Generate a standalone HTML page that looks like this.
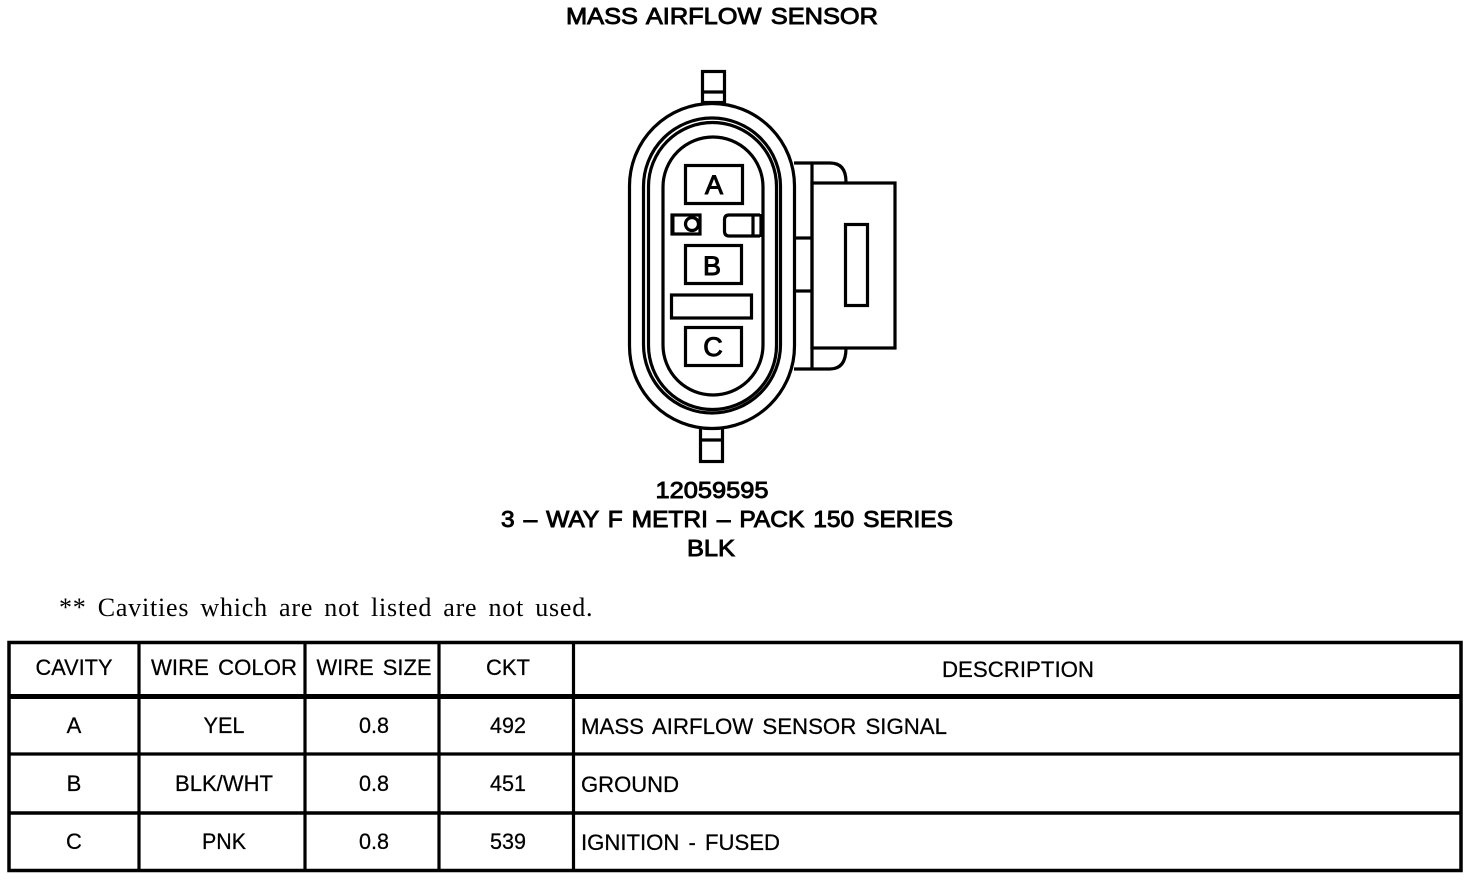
<!DOCTYPE html>
<html>
<head>
<meta charset="utf-8">
<style>
html,body{margin:0;padding:0;background:#fff;width:1472px;height:882px;overflow:hidden}
svg{display:block}
text{font-family:"Liberation Sans",sans-serif;fill:#000}
.h{font-size:23px;stroke:#000;stroke-width:.9px;text-anchor:middle;word-spacing:2px}
.t{font-size:22px;stroke:#000;stroke-width:.25px;word-spacing:3px}
.c{text-anchor:middle}
.l{font-size:27px;stroke:#000;stroke-width:1px;text-anchor:middle}
</style>
</head>
<body>
<svg width="1472" height="882" viewBox="0 0 1472 882" xmlns="http://www.w3.org/2000/svg">
<g fill="none" stroke="#000" stroke-width="3.200">
<!-- tabs -->
<rect x="702.500" y="71.500" width="22" height="31"/>
<line x1="702" y1="92" x2="725" y2="92"/>
<rect x="700.500" y="428" width="22" height="33.500"/>
<line x1="700" y1="440" x2="723" y2="440"/>
<!-- right clip -->
<path d="M794 163H830Q846 163 846 182"/>
<path d="M846 348Q846 369 830 369H794"/>
<rect x="812" y="183" width="83" height="165"/>
<line x1="812" y1="163" x2="812" y2="369"/>
<line x1="796" y1="238" x2="812" y2="238"/>
<line x1="796" y1="291" x2="812" y2="291"/>
<rect x="845.500" y="224.500" width="22" height="81"/>
<!-- ovals -->
<rect x="629.500" y="103.500" width="165" height="325" rx="82.500" ry="82.500" fill="#fff"/>
<rect x="643.500" y="118" width="137" height="295" rx="68.500" ry="68.500"/>
<rect x="648.500" y="122.500" width="128" height="287" rx="64" ry="64"/>
<rect x="663" y="137" width="100" height="258" rx="50" ry="50"/>
<!-- cavities -->
<rect x="685.500" y="165.500" width="57" height="38"/>
<rect x="685.500" y="245.500" width="56" height="38"/>
<rect x="671.500" y="295" width="80" height="23"/>
<rect x="685.500" y="327.500" width="56" height="38"/>
<rect x="672" y="215" width="28" height="19"/>
<line x1="672.500" y1="214" x2="672.500" y2="235" stroke-width="4"/>
<circle cx="692" cy="224" r="6.500"/>
<path d="M760 215H729Q724.500 215 724.500 220V231Q724.500 236 729 236H760"/>
<line x1="753" y1="215" x2="753" y2="236"/>
<line x1="761" y1="214" x2="761" y2="237"/>
<!-- table -->
<rect x="9" y="642.500" width="1452" height="228" stroke-width="3.500"/>
<line x1="9" y1="696.500" x2="1461" y2="696.500" stroke-width="5"/>
<line x1="9" y1="754" x2="1461" y2="754"/>
<line x1="9" y1="813" x2="1461" y2="813" stroke-width="3.500"/>
<line x1="139" y1="642" x2="139" y2="870"/>
<line x1="305" y1="642" x2="305" y2="870"/>
<line x1="439" y1="642" x2="439" y2="870"/>
<line x1="573.500" y1="642" x2="573.500" y2="870"/>
</g>
<text class="h" x="722" y="24" textLength="312" lengthAdjust="spacingAndGlyphs">MASS AIRFLOW SENSOR</text>
<text class="h" x="712" y="498" textLength="113" lengthAdjust="spacingAndGlyphs">12059595</text>
<text class="h" x="727" y="527" textLength="452" lengthAdjust="spacingAndGlyphs">3 – WAY F METRI – PACK 150 SERIES</text>
<text class="h" x="711" y="556" textLength="48" lengthAdjust="spacingAndGlyphs">BLK</text>
<text class="l" x="714" y="194">A</text>
<text class="l" x="712" y="275">B</text>
<text class="l" x="713" y="356">C</text>
<text x="59" y="616" font-size="26" letter-spacing=".8" word-spacing="3.800" style="font-family:'Liberation Serif',serif">** Cavities which are not listed are not used.</text>
<g class="t">
<text class="c" x="74" y="675" textLength="77" lengthAdjust="spacingAndGlyphs">CAVITY</text>
<text class="c" x="224" y="675" textLength="146" lengthAdjust="spacingAndGlyphs">WIRE COLOR</text>
<text class="c" x="374" y="675" textLength="115" lengthAdjust="spacingAndGlyphs">WIRE SIZE</text>
<text class="c" x="508" y="675" textLength="44" lengthAdjust="spacingAndGlyphs">CKT</text>
<text class="c" x="1018" y="677" textLength="152" lengthAdjust="spacingAndGlyphs">DESCRIPTION</text>
<text class="c" x="74" y="733">A</text>
<text class="c" x="224" y="733" textLength="41" lengthAdjust="spacingAndGlyphs">YEL</text>
<text class="c" x="374" y="733" textLength="30" lengthAdjust="spacingAndGlyphs">0.8</text>
<text class="c" x="508" y="733" textLength="36" lengthAdjust="spacingAndGlyphs">492</text>
<text x="581" y="734" textLength="366" lengthAdjust="spacingAndGlyphs">MASS AIRFLOW SENSOR SIGNAL</text>
<text class="c" x="74" y="791">B</text>
<text class="c" x="224" y="791" textLength="98" lengthAdjust="spacingAndGlyphs">BLK/WHT</text>
<text class="c" x="374" y="791" textLength="30" lengthAdjust="spacingAndGlyphs">0.8</text>
<text class="c" x="508" y="791" textLength="36" lengthAdjust="spacingAndGlyphs">451</text>
<text x="581" y="792" textLength="98" lengthAdjust="spacingAndGlyphs">GROUND</text>
<text class="c" x="74" y="849">C</text>
<text class="c" x="224" y="849" textLength="44" lengthAdjust="spacingAndGlyphs">PNK</text>
<text class="c" x="374" y="849" textLength="30" lengthAdjust="spacingAndGlyphs">0.8</text>
<text class="c" x="508" y="849" textLength="36" lengthAdjust="spacingAndGlyphs">539</text>
<text x="581" y="850" textLength="199" lengthAdjust="spacingAndGlyphs">IGNITION - FUSED</text>
</g>
</svg>
</body>
</html>
